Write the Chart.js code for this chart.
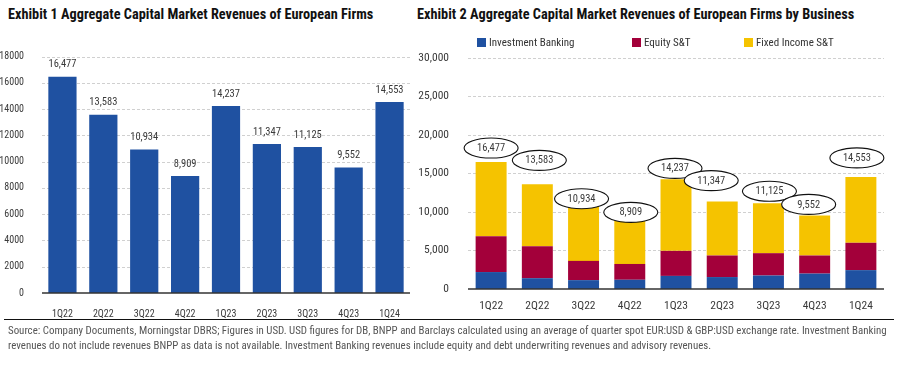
<!DOCTYPE html>
<html><head><meta charset="utf-8">
<script src="https://cdn.jsdelivr.net/npm/chart.js@4.4.0/dist/chart.umd.min.js"></script>
<style>
html,body{margin:0;padding:0;background:#fff;width:901px;height:373px;overflow:hidden;}
body{position:relative;font-family:"Liberation Sans Narrow","Roboto Condensed","DejaVu Sans Condensed",sans-serif;}
.title{position:absolute;top:6px;font-weight:bold;font-size:14.3px;color:#111;white-space:nowrap;}
#c1w{position:absolute;left:0;top:40px;width:411px;height:280px;background:#fff;}
#c2w{position:absolute;left:411px;top:40px;width:490px;height:280px;background:#fff;}
#legend{position:absolute;top:36px;left:0;font-size:11px;color:#333;}
.li{position:absolute;white-space:nowrap;display:flex;align-items:center;}
.li span.b{display:inline-block;width:9px;height:9px;margin-right:3px;}
#rule{position:absolute;left:4px;width:890px;top:319px;height:0;border-top:1.5px solid #111;}
#foot{position:absolute;left:8px;top:323px;font-size:10.9px;color:#555;line-height:15px;white-space:nowrap;}
</style></head>
<body>
<div class="title" style="left:8px">Exhibit 1 Aggregate Capital Market Revenues of European Firms</div>
<div class="title" style="left:417px">Exhibit 2 Aggregate Capital Market Revenues of European Firms by Business</div>
<div id="c1w"><canvas id="c1"></canvas></div>
<div id="c2w"><canvas id="c2"></canvas></div>
<div id="legend"></div>
<div id="rule"></div>
<div id="foot">Source: Company Documents, Morningstar DBRS; Figures in USD. USD figures for DB, BNPP and Barclays calculated using an average of quarter spot EUR:USD &amp; GBP:USD exchange rate. Investment Banking<br>revenues do not include revenues BNPP as data is not available. Investment Banking revenues include equity and debt underwriting revenues and advisory revenues.</div>
<script>
const categories = ['1Q22','2Q22','3Q22','4Q22','1Q23','2Q23','3Q23','4Q23','1Q24'];
const totals = [16477,13583,10934,8909,14237,11347,11125,9552,14553];
const ibValues = [2200,1400,1150,1200,1700,1550,1750,2000,2450];
const equityValues = [4650,4150,2500,2050,3250,2800,2900,2350,3550];
const fixedIncomeValues = [9627,8033,7284,5659,9287,6997,6475,5202,8553];
const seriesNames = ['Investment Banking','Equity S&T','Fixed Income S&T'];
const leftTicks = [0,2000,4000,6000,8000,10000,12000,14000,16000,18000];
const rightTicks = [0,5000,10000,15000,20000,25000,30000];

const FONT = '"Liberation Sans Narrow","Roboto Condensed","DejaVu Sans Condensed",sans-serif';
const BLUE = '#1f51a1', RED = '#a3003a', YELLOW = '#f5c300';
const TXT = '#3a3a3a';
const fmt = v => v.toLocaleString('en-US');

const legendPos = [477, 632, 744];
const legendColors = [BLUE, RED, YELLOW];
const lg = document.getElementById('legend');
seriesNames.forEach((n,i)=>{
  const d = document.createElement('div'); d.className='li'; d.style.left = legendPos[i]+'px';
  const b = document.createElement('span'); b.className='b'; b.style.background = legendColors[i];
  d.appendChild(b); d.appendChild(document.createTextNode(n));
  lg.appendChild(d);
});

const noBorder = () => ({display:false});

const topLabels = {
  id:'topLabels',
  afterDatasetsDraw(chart){
    const ctx = chart.ctx, meta = chart.getDatasetMeta(0);
    ctx.save(); ctx.font = '10.5px '+FONT; ctx.fillStyle = TXT; ctx.textAlign='center'; ctx.textBaseline='middle';
    meta.data.forEach((el,i)=>{ ctx.fillText(fmt(totals[i]), el.x, el.y - 12); });
    ctx.restore();
  }
};

const dashGrid = {
  id:'dashGrid',
  beforeDatasetsDraw(chart){
    const {ctx, chartArea:a} = chart; const y = chart.scales.y;
    ctx.save(); ctx.strokeStyle = '#c4c4c4'; ctx.lineWidth = 0.8; ctx.setLineDash([3,2]);
    y.ticks.forEach(t=>{ if(t.value===0) return; const py = Math.round(y.getPixelForValue(t.value))+0.5;
      ctx.beginPath(); ctx.moveTo(a.left, py); ctx.lineTo(a.right, py); ctx.stroke(); });
    ctx.restore();
  },
  afterDatasetsDraw(chart){
    const {ctx, chartArea:a} = chart; const y = chart.scales.y;
    const py = y.getPixelForValue(0);
    ctx.save(); ctx.setLineDash([]); ctx.strokeStyle='#333'; ctx.lineWidth=1.5; ctx.beginPath(); ctx.moveTo(a.left,py); ctx.lineTo(a.right,py); ctx.stroke(); ctx.restore();
  }
};

new Chart(document.getElementById('c1'), {
  type:'bar',
  data:{labels:categories, datasets:[{label:'Total', data:totals, backgroundColor:BLUE, borderWidth:0, categoryPercentage:1, barPercentage:0.69}]},
  options:{
    responsive:true, maintainAspectRatio:false, animation:false,
    layout:{padding:{top:16.7,right:1,left:0,bottom:0}},
    plugins:{legend:{display:false}, tooltip:{enabled:false}},
    scales:{
      x:{grid:{display:false}, border:noBorder(), ticks:{color:TXT, font:{family:FONT,size:10}, padding:7},
         afterFit(s){s.height=27;}},
      y:{min:0, max:18000, grid:{display:false}, border:noBorder(),
         afterBuildTicks(s){s.ticks = leftTicks.map(v=>({value:v}));},
         ticks:{color:TXT, font:{family:FONT,size:10}, padding:10, callback:v=>String(v)},
         afterFit(s){s.width=42;}}
    }
  },
  plugins:[dashGrid, topLabels]
});

const labelOffsetX = [0,2,-2,1,-1,-11,1,-6,-4];
const labelOffsetY = [14,24,6,8,11,21,12,11,19];
const ellipseLabels = {
  id:'ellipseLabels',
  afterDatasetsDraw(chart){
    const ctx = chart.ctx, xs = chart.scales.x, ys = chart.scales.y;
    ctx.save();
    totals.forEach((v,i)=>{
      const cx = xs.getPixelForValue(i) + labelOffsetX[i];
      const cy = ys.getPixelForValue(v) - labelOffsetY[i];
      ctx.beginPath(); ctx.ellipse(cx, cy, 27, 10, 0, 0, Math.PI*2); ctx.closePath();
      ctx.fillStyle='#fff'; ctx.fill(); ctx.lineWidth=1.1; ctx.strokeStyle='#111'; ctx.stroke();
      ctx.font='10.5px '+FONT; ctx.fillStyle=TXT; ctx.textAlign='center'; ctx.textBaseline='middle';
      ctx.fillText(fmt(v), cx, cy+0.5);
    });
    ctx.restore();
  }
};

new Chart(document.getElementById('c2'), {
  type:'bar',
  data:{labels:categories, datasets:[
    {label:seriesNames[0], data:ibValues, backgroundColor:BLUE},
    {label:seriesNames[1], data:equityValues, backgroundColor:RED},
    {label:seriesNames[2], data:fixedIncomeValues, backgroundColor:YELLOW}
  ].map(d=>Object.assign(d,{categoryPercentage:1, barPercentage:0.67, borderWidth:0}))},
  options:{
    responsive:true, maintainAspectRatio:false, animation:false,
    layout:{padding:{top:17,right:17,left:0,bottom:0}},
    plugins:{legend:{display:false}, tooltip:{enabled:false}},
    scales:{
      x:{stacked:true, grid:{display:false}, border:noBorder(), ticks:{color:TXT, font:{family:FONT,size:11.5}, padding:2},
         afterFit(s){s.height=31;}},
      y:{stacked:true, min:0, max:30000, grid:{display:false}, border:noBorder(),
         afterBuildTicks(s){s.ticks = rightTicks.map(v=>({value:v}));},
         ticks:{color:TXT, font:{family:FONT,size:11.5}, padding:11, callback:v=>fmt(v)},
         afterFit(s){s.width=57;}}
    }
  },
  plugins:[dashGrid, ellipseLabels]
});
</script>
</body></html>
